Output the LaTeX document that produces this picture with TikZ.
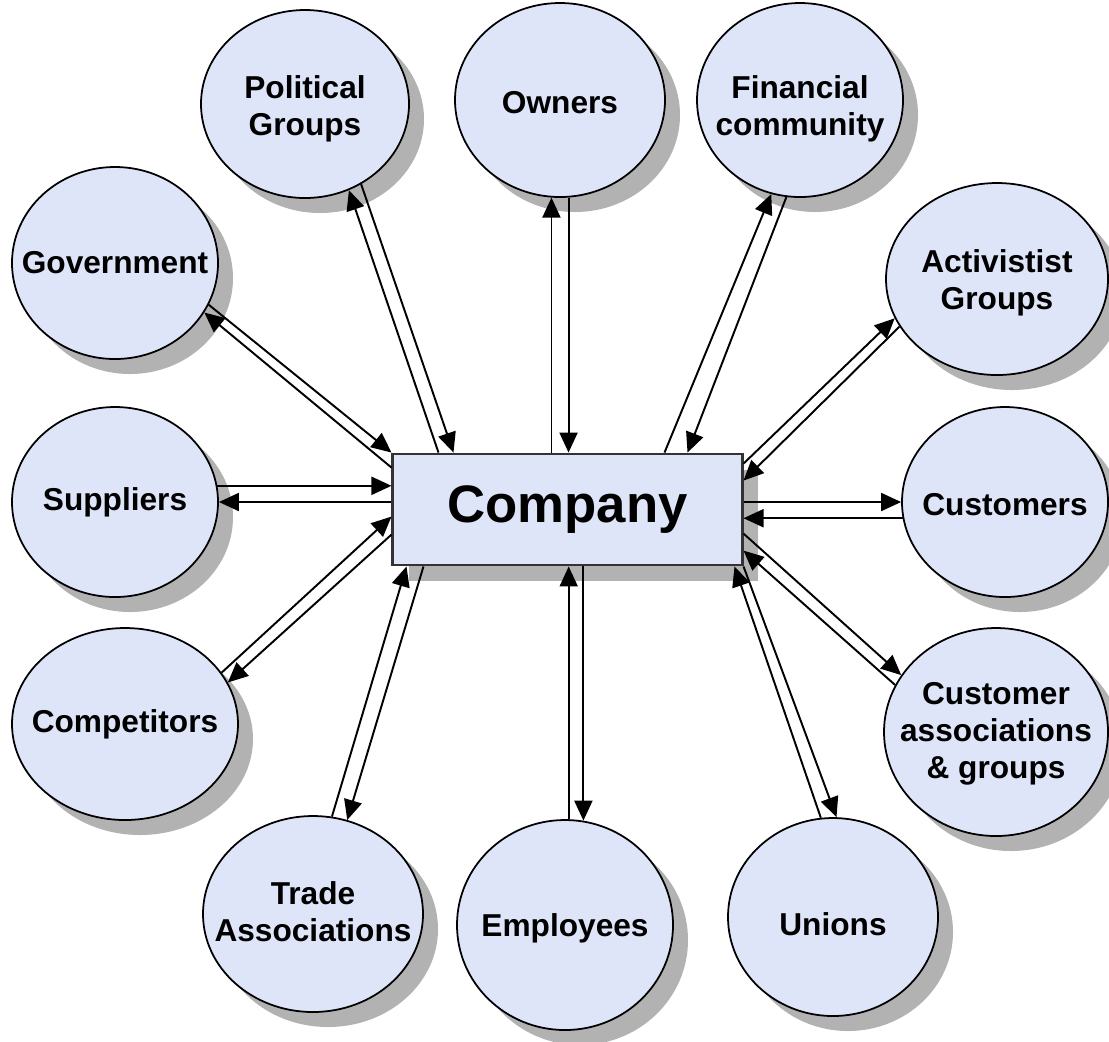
\documentclass[tikz,border=0pt]{standalone}
\usepackage{fontspec}
\setmainfont{Liberation Sans}
\usetikzlibrary{shapes.geometric,shadows,arrows.meta,calc}

\definecolor{bubble}{RGB}{223,229,248}

\begin{document}
\begin{tikzpicture}[x=0.01cm,y=-0.01cm,
		>={Triangle[length=2mm,width=1.8mm]},
		% The stakeholder ellipses:
		party/.style 2 args={
			ellipse,inner sep=0pt,
			minimum width=#1*0.01cm,minimum height=#2*0.01cm,
			line width=0.5pt,draw=black,fill=bubble,
			drop shadow={shadow xshift=1.5mm,shadow yshift=-1.5mm,fill=black!30,opacity=1}},
		ptext/.style={font=\fontsize{9}{10.5}\selectfont\bfseries,align=center,inner sep=0pt},
		% The company in the middle
		firm/.style={
			rectangle,inner sep=0pt,
			minimum width=3.49cm,minimum height=1.11cm,
			line width=0.8pt,draw=black!80,fill=bubble,
			drop shadow={shadow xshift=1.6mm,shadow yshift=-1.6mm,fill=black!30,opacity=1},
			font=\fontsize{15}{18}\selectfont\bfseries},
		flow/.style={->,line width=0.55pt}]
	\useasboundingbox (0,0) rectangle (1109,1041);

	\node (pol)	[party={208}{188}] at (305,104)  {};
	\node (own)	[party={210}{194}] at (560,100)  {};
	\node (fin)	[party={206}{194}] at (800,100)  {};
	\node (gov)	[party={206}{192}] at (115,263)  {};
	\node (act)	[party={222}{192}] at (997,279)  {};
	\node (sup)	[party={206}{190}] at (115,502)  {};
	\node (cus)	[party={206}{190}] at (1005,502) {};
	\node (cmp)	[party={226}{192}] at (125,724)  {};
	\node (cas)	[party={224}{208}] at (996,732)  {};
	\node (trd)	[party={220}{196}] at (313,914)  {};
	\node (emp)	[party={216}{210}] at (565,925)  {};
	\node (uni)	[party={210}{198}] at (833,917)  {};

	\node (pol-t)	[ptext] at ($(pol)+(0,5)$) {Political\\Groups};
	\node (own-t)	[ptext] at ($(own)+(0,3)$) {Owners};
	\node (fin-t)	[ptext] at ($(fin)+(0,9)$) {Financial\\community};
	\node (gov-t)	[ptext] at (gov) {Government};
	\node (act-t)	[ptext] at ($(act)+(0,4)$) {Activistist\\Groups};
	\node (sup-t)	[ptext] at (sup) {Suppliers};
	\node (cus-t)	[ptext] at ($(cus)+(0,3)$) {Customers};
	\node (cmp-t)	[ptext] at (cmp) {Competitors};
	\node (cas-t)	[ptext] at ($(cas)+(0,2)$) {Customer\\associations\\\& groups};
	\node (trd-t)	[ptext] at ($(trd)+(0,-2)$) {Trade\\Associations};
	\node (emp-t)	[ptext] at ($(emp)+(0,3)$) {Employees};
	\node (uni-t)	[ptext] at ($(uni)+(0,7)$) {Unions};

	\node (comp)	[firm] at (567.5,509.5) {Company};

	% two flows for every stakeholder
	\draw[flow] ($(comp.north west)+(47,0)$) -- (pol.-63);
	\draw[flow] (pol.-55) -- ($(comp.north west)+(62,0)$);

	\draw[flow] (own.-95 |- comp.north) -- (own.-95);
	\draw[flow] (own.-85) -- (own.-85 |- comp.north);

	\draw[flow] ($(comp.north east)+(-79,0)$) -- (fin.-107);
	\draw[flow] (fin.-98) -- ($(comp.north east)+(-56,0)$);

	\draw[flow] (gov.-24) -- (comp.north west);
	\draw[flow] ($(comp.north west)+(0,15)$) -- (gov.-29);

	\draw[flow] (sup.9) -- (sup.9 -| comp.west);
	\draw[flow] (comp.west |- sup.east) -- (sup.east);

	\draw[flow] (cmp.28) -- ($(comp.north west)+(0,64)$);
	\draw[flow] ($(comp.north west)+(0,82)$) -- (cmp.22);

	\draw[flow] (trd.79) -- ($(comp.south west)+(15,0)$);
	\draw[flow] ($(comp.south west)+(32,0)$) -- (trd.70);

	\draw[flow] (emp.88) -- (emp.88 |- comp.south);
	\draw[flow] (emp.80 |- comp.south) -- (emp.80);

	\draw[flow] (uni.97) -- ($(comp.south east)+(-9,0)$);
	\draw[flow] (comp.south east) -- (uni.88);

	\draw[flow] ($(comp.north east)+(0,81)$) -- (cas.149);
	\draw[flow] (cas.155) -- ($(comp.north east)+(0,98)$);

	\draw[flow] (comp.east |- cus.west) -- (cus.west);
	\draw[flow] (cus.189) -- (cus.189 -| comp.east);

	\draw[flow] ($(comp.north east)+(0,11)$) -- (act.201);
	\draw[flow] (act.206) -- ($(comp.north east)+(0,28)$);
\end{tikzpicture}
\end{document}
